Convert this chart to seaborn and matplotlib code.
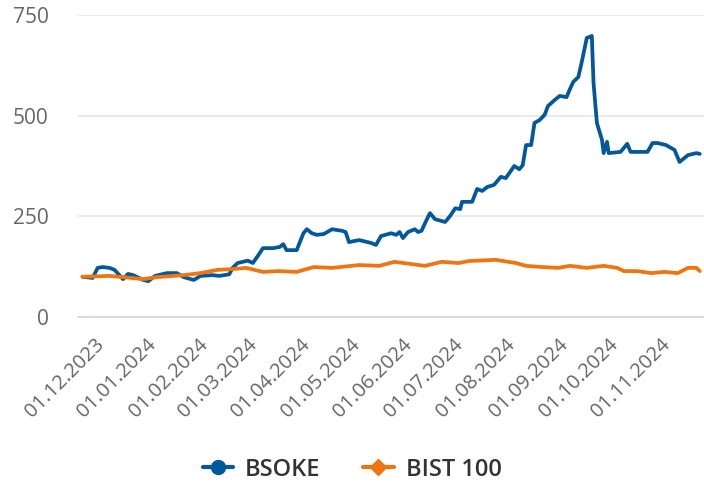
import pandas as pd
import matplotlib
matplotlib.use("Agg")
import matplotlib.pyplot as plt
import matplotlib.dates as mdates
from matplotlib.lines import Line2D
import seaborn as sns

# BSOKE (normalised to 100 at start)
bsoke_dates = [
    "2023-11-20", "2023-11-26", "2023-11-29", "2023-12-02", "2023-12-06", "2023-12-09",
    "2023-12-14", "2023-12-17", "2023-12-20", "2023-12-26", "2023-12-29", "2024-01-02",
    "2024-01-09", "2024-01-15", "2024-01-19", "2024-01-25", "2024-01-29", "2024-02-05",
    "2024-02-09", "2024-02-15", "2024-02-17", "2024-02-20", "2024-02-26", "2024-02-29",
    "2024-03-03", "2024-03-06", "2024-03-12", "2024-03-16", "2024-03-18", "2024-03-20",
    "2024-03-26", "2024-03-30", "2024-04-01", "2024-04-04", "2024-04-07", "2024-04-11",
    "2024-04-16", "2024-04-22", "2024-04-24", "2024-04-26", "2024-05-02", "2024-05-09",
    "2024-05-12", "2024-05-15", "2024-05-21", "2024-05-24", "2024-05-26", "2024-05-28",
    "2024-05-31", "2024-06-04", "2024-06-06", "2024-06-08", "2024-06-11", "2024-06-13",
    "2024-06-16", "2024-06-22", "2024-06-25", "2024-06-28", "2024-07-01", "2024-07-02",
    "2024-07-08", "2024-07-11", "2024-07-14", "2024-07-17", "2024-07-21", "2024-07-25",
    "2024-07-28", "2024-08-02", "2024-08-05", "2024-08-07", "2024-08-09", "2024-08-12",
    "2024-08-14", "2024-08-17", "2024-08-20", "2024-08-22", "2024-08-26", "2024-08-29",
    "2024-09-02", "2024-09-04", "2024-09-06", "2024-09-09", "2024-09-11", "2024-09-14",
    "2024-09-17", "2024-09-18", "2024-09-20", "2024-09-23", "2024-09-24", "2024-09-26",
    "2024-09-27", "2024-10-04", "2024-10-08", "2024-10-10", "2024-10-20", "2024-10-23",
    "2024-10-26", "2024-10-31", "2024-11-05", "2024-11-08", "2024-11-13", "2024-11-18",
    "2024-11-20",
]
bsoke_values = [
    100, 97, 122, 124, 122, 117,
    94, 107, 104, 92, 89, 102,
    109, 109, 99, 92, 102, 104,
    102, 106, 122, 134, 140, 134,
    152, 171, 171, 174, 181, 166,
    166, 208, 218, 208, 204, 206,
    218, 214, 211, 186, 191, 184,
    179, 201, 208, 204, 211, 196,
    211, 218, 211, 214, 241, 258,
    243, 236, 251, 270, 268, 286,
    286, 318, 313, 323, 328, 348,
    345, 375, 367, 377, 427, 427,
    482, 489, 502, 524, 539, 549,
    546, 566, 584, 596, 633, 693,
    698, 581, 482, 440, 407, 435,
    407, 410, 430, 410, 410, 432,
    432, 427, 415, 385, 402, 407,
    405,
]

# BIST 100 (normalised to 100 at start)
bist_dates = [
    "2023-11-20", "2023-11-28", "2023-12-06", "2023-12-14", "2023-12-26", "2024-01-03",
    "2024-01-19", "2024-01-29", "2024-02-08", "2024-02-17", "2024-02-25", "2024-03-06",
    "2024-03-15", "2024-03-26", "2024-04-05", "2024-04-16", "2024-05-02", "2024-05-14",
    "2024-05-23", "2024-06-10", "2024-06-20", "2024-06-30", "2024-07-06", "2024-07-22",
    "2024-08-03", "2024-08-09", "2024-08-19", "2024-08-28", "2024-09-04", "2024-09-14",
    "2024-09-24", "2024-10-02", "2024-10-06", "2024-10-14", "2024-10-22", "2024-10-30",
    "2024-11-07", "2024-11-13", "2024-11-18", "2024-11-20",
]
bist_values = [
    100, 101, 102, 99, 94, 99,
    104, 109, 117, 119, 122, 112,
    114, 112, 124, 122, 129, 127,
    137, 127, 137, 134, 139, 142,
    134, 127, 124, 122, 127, 122,
    127, 122, 114, 114, 109, 112,
    109, 122, 122, 114,
]

series_names = ["BSOKE", "BIST 100"]
colors = ["#03579b", "#ee7510"]
y_ticks = [0, 250, 500, 750]

df = pd.concat([
    pd.DataFrame({"date": pd.to_datetime(bsoke_dates), "value": bsoke_values, "series": series_names[0]}),
    pd.DataFrame({"date": pd.to_datetime(bist_dates), "value": bist_values, "series": series_names[1]}),
])

sns.set_style("white")
plt.rcParams["font.family"] = ["Open Sans", "DejaVu Sans"]
plt.rcParams["lines.solid_joinstyle"] = "round"
plt.rcParams["lines.solid_capstyle"] = "round"

fig = plt.figure(figsize=(7.04, 4.97), dpi=100)
ax = fig.add_axes([78 / 704, 1 - 317 / 497, 626 / 704, 302 / 497])

sns.lineplot(data=df, x="date", y="value", hue="series", hue_order=series_names,
             palette=colors, linewidth=2.7, legend=False, ax=ax, zorder=3)

ax.set_ylim(0, 750)
ax.set_yticks(y_ticks)
ax.yaxis.grid(True, color="#e6e6e6", linewidth=1.2)
ax.xaxis.grid(False)
for s in ["top", "right", "left"]:
    ax.spines[s].set_visible(False)
ax.spines["bottom"].set_color("#ccd6eb")
ax.spines["bottom"].set_linewidth(1.2)
ax.spines["bottom"].set_zorder(2)

ax.xaxis.set_major_locator(mdates.MonthLocator(bymonthday=1))
ax.xaxis.set_major_formatter(mdates.DateFormatter("%d.%m.%Y"))
ax.set_xlim(pd.Timestamp("2023-11-17 08:00"), pd.Timestamp("2024-11-22 12:00"))
ax.tick_params(axis="x", length=13.5, width=1, color="#ccd6eb", pad=4,
               labelsize=14.5, labelcolor="#666666")
ax.tick_params(axis="y", length=0, pad=21, labelsize=15, labelcolor="#666666")
for lab in ax.get_xticklabels():
    lab.set_rotation(45)
    lab.set_ha("right")
    lab.set_va("center")
    lab.set_rotation_mode("anchor")
ax.set_xlabel("")
ax.set_ylabel("")

handles = [
    Line2D([], [], color=colors[0], lw=3, marker="o", markersize=10),
    Line2D([], [], color=colors[1], lw=3, marker="D", markersize=8),
]
fig.legend(handles, series_names, loc="lower center", bbox_to_anchor=(0.5, -0.012),
           ncol=2, frameon=False, handlelength=1.3, handletextpad=0.5,
           columnspacing=1.8, prop={"size": 17, "weight": "semibold"},
           labelcolor="#333333")

fig.savefig("out.png", dpi=100)
